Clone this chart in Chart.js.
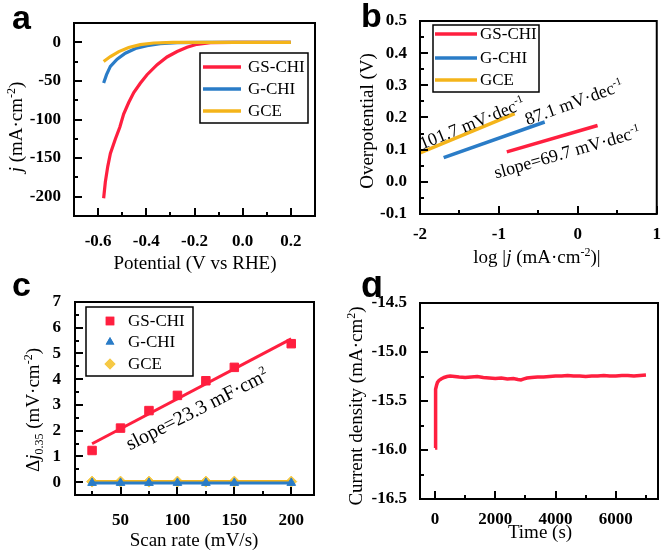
<!DOCTYPE html>
<html><head><meta charset="utf-8">
<script src="https://cdn.jsdelivr.net/npm/chart.js@4.4.0/dist/chart.umd.min.js"></script>
<style>
html,body{margin:0;padding:0;background:#fff;}
body{width:663px;height:552px;position:relative;overflow:hidden;}
canvas{position:absolute;}
</style></head><body>
<canvas id="ca" width="331" height="276" style="left:0;top:0"></canvas>
<canvas id="cb" width="332" height="276" style="left:331px;top:0"></canvas>
<canvas id="cc" width="331" height="276" style="left:0;top:276px"></canvas>
<canvas id="cd" width="332" height="276" style="left:331px;top:276px"></canvas>
<script>
// ---------- DATA ----------
const seriesNames = ['GS-CHI', 'G-CHI', 'GCE'];

// (a) polarization curves
const aGSpot = [-0.577,-0.570,-0.560,-0.549,-0.528,-0.510,-0.494,-0.473,-0.452,-0.425,-0.397,-0.355,-0.314,-0.272,-0.231,-0.190,-0.134,-0.040,0.100,0.200];
const aGScur = [-202,-181,-161,-144,-125,-110,-93,-78,-65,-53,-42,-29,-19,-12,-6.4,-2.6,-0.4,0,0,0];
const aGpot  = [-0.577,-0.565,-0.549,-0.521,-0.487,-0.445,-0.397,-0.342,-0.272,-0.150,0.000,0.200];
const aGcur  = [-52.6,-41.9,-31.2,-21.8,-14.1,-8.1,-4.3,-1.7,-0.4,0,0,0];
const aCEpot = [-0.577,-0.549,-0.514,-0.473,-0.425,-0.369,-0.290,-0.100,0.200];
const aCEcur = [-24.8,-18.4,-12.0,-6.8,-3.0,-0.9,0,0,0];
const aXTicks = [-0.6,-0.4,-0.2,0.0,0.2];
const aYTicks = [0,-50,-100,-150,-200];

// (b) Tafel lines
const bGSlog = [-0.90, 0.25];
const bGSeta = [0.093, 0.175];
const bGlog  = [-1.70, -0.42];
const bGeta  = [0.075, 0.186];
const bCElog = [-2.00, -0.80];
const bCEeta = [0.090, 0.212];
const bXTicks = [-2,-1,0,1];
const bYTicks = [0.5,0.4,0.3,0.2,0.1,0.0,-0.1];

// (c) double-layer capacitance
const cRate   = [25,50,75,100,125,150,200];
const cGS     = [1.23,2.10,2.78,3.37,3.94,4.46,5.38];
const cG      = [-0.03,-0.03,-0.03,-0.03,-0.03,-0.03,-0.03];
const cCE     = [0.02,0.02,0.02,0.02,0.02,0.02,0.02];
const cFitX   = [25,200];
const cFitGS  = [1.49,5.57];
const cFitG   = [-0.03,-0.03];
const cFitCE  = [0.02,0.02];
const cXTicks = [50,100,150,200];
const cYTicks = [0,1,2,3,4,5,6,7];

// (d) chronoamperometry
const dTime = [0,8,15,30,50,80,130,200,300,400,500,650,800,1000,1200,1400,1600,1800,2000,2200,2400,2600,2750,2850,2950,3050,3200,3400,3600,3800,4000,4200,4400,4600,4800,5000,5200,5400,5600,5800,6000,6200,6400,6600,6800,7000];
const dCur  = [-15.98,-15.70,-15.50,-15.38,-15.34,-15.31,-15.29,-15.275,-15.26,-15.25,-15.245,-15.25,-15.255,-15.26,-15.255,-15.25,-15.26,-15.265,-15.27,-15.265,-15.275,-15.27,-15.28,-15.285,-15.275,-15.265,-15.26,-15.255,-15.255,-15.25,-15.245,-15.245,-15.24,-15.245,-15.245,-15.25,-15.245,-15.245,-15.24,-15.245,-15.245,-15.24,-15.24,-15.245,-15.24,-15.235];
const dXTicks = [0,2000,4000,6000];
const dYTicks = [-14.5,-15.0,-15.5,-16.0,-16.5];

// ---------- STYLE ----------
const RED = '#ff1f3f', BLUE = '#2a7cc7', GOLD = '#f4b41a', GOLDPT = '#f6c945';
const SERIF = '"Liberation Serif", "Times New Roman", serif';
Chart.defaults.color = '#000';

const pts = (xs, ys) => xs.map((x, i) => ({x, y: ys[i]}));

function rich(ctx, parts, x, y, ang, size) {
  ctx.save(); ctx.translate(x, y); ctx.rotate(ang * Math.PI / 180);
  const fontOf = p => `${p.i ? 'italic ' : ''}${p.b ? 'bold ' : ''}${(p.sup || p.sub) ? Math.round(size * 0.62) : size}px ${SERIF}`;
  let w = 0;
  parts.forEach(p => { ctx.font = fontOf(p); p._w = ctx.measureText(p.t).width; w += p._w; });
  let cx = -w / 2;
  ctx.textBaseline = 'alphabetic'; ctx.textAlign = 'left'; ctx.fillStyle = '#000';
  const base = size * 0.33;
  parts.forEach(p => {
    ctx.font = fontOf(p);
    const dy = p.sup ? -size * 0.38 : (p.sub ? size * 0.22 : 0);
    ctx.fillText(p.t, cx, base + dy); cx += p._w;
  });
  ctx.restore();
}

function drawDeco(chart, cfg) {
  const ctx = chart.ctx, A = chart.chartArea, xs = chart.scales.x, ys = chart.scales.y;
  ctx.save();
  ctx.strokeStyle = '#000'; ctx.lineWidth = 2;
  const tk = (vals, len, axis) => vals.forEach(v => {
    ctx.beginPath();
    if (axis === 'x') { const px = Math.round(xs.getPixelForValue(v)); ctx.moveTo(px, A.bottom); ctx.lineTo(px, A.bottom - len); }
    else { const py = Math.round(ys.getPixelForValue(v)); ctx.moveTo(A.left, py); ctx.lineTo(A.left + len, py); }
    ctx.stroke();
  });
  tk(cfg.x.ticks, 8, 'x'); tk(cfg.x.minor, 4, 'x');
  tk(cfg.y.ticks, 8, 'y'); tk(cfg.y.minor, 4, 'y');
  ctx.strokeRect(A.left, A.top, A.right - A.left, A.bottom - A.top);
  if (cfg.legend) {
    const L = cfg.legend;
    ctx.lineWidth = 1.5;
    ctx.strokeRect(L.x0, L.y0, L.x1 - L.x0, L.y1 - L.y0);
    L.items.forEach((it, i) => {
      const y = L.rows[i];
      if (it.line) {
        ctx.strokeStyle = it.color; ctx.lineWidth = 3.5; ctx.lineCap = 'butt';
        ctx.beginPath(); ctx.moveTo(L.lx0, y); ctx.lineTo(L.lx1, y); ctx.stroke();
      } else {
        ctx.fillStyle = it.color; ctx.strokeStyle = it.color; ctx.lineWidth = 1;
        Chart.helpers.drawPoint(ctx, {pointStyle: it.style, radius: it.r, rotation: 0}, L.mx, y);
        ctx.fill();
      }
      ctx.fillStyle = '#000'; ctx.font = `17px ${SERIF}`; ctx.textBaseline = 'middle'; ctx.textAlign = 'left';
      ctx.fillText(it.text, L.tx, y + 1);
    });
  }
  cfg.texts.forEach(t => rich(ctx, t.parts, t.x, t.y, t.a || 0, t.s));
  ctx.fillStyle = '#000'; ctx.font = `bold ${cfg.letter.s}px "Liberation Sans", Arial, sans-serif`;
  ctx.textBaseline = 'alphabetic'; ctx.textAlign = 'left';
  ctx.fillText(cfg.letter.t, cfg.letter.x, cfg.letter.y);
  ctx.restore();
}

function panel(id, cfg) {
  const el = document.getElementById(id);
  const W = el.width, H = el.height, A = cfg.area;
  const tickFont = {family: SERIF, size: 17, weight: 'bold'};
  return new Chart(el, {
    type: 'scatter',
    data: {datasets: cfg.datasets},
    options: {
      responsive: false, animation: false, events: [],
      layout: {padding: {left: 0, right: W - A.r, top: A.t, bottom: 0}},
      plugins: {legend: {display: false}, tooltip: {enabled: false}},
      elements: {line: {tension: 0}},
      scales: {
        x: {type: 'linear', min: cfg.x.min, max: cfg.x.max,
            grid: {display: false}, border: {display: false},
            afterFit: s => { s.height = H - A.b; },
            afterBuildTicks: s => { s.ticks = cfg.x.ticks.map(v => ({value: v})); },
            ticks: {padding: cfg.x.pad, font: tickFont, color: '#000', callback: cfg.x.fmt, maxRotation: 0, autoSkip: false}},
        y: {type: 'linear', min: cfg.y.min, max: cfg.y.max,
            grid: {display: false}, border: {display: false},
            afterFit: s => { s.width = A.l; },
            afterBuildTicks: s => { s.ticks = cfg.y.ticks.map(v => ({value: v})); },
            ticks: {padding: cfg.y.pad, font: tickFont, color: '#000', callback: cfg.y.fmt, autoSkip: false}}
      }
    },
    plugins: [{id: 'deco', afterDraw: ch => drawDeco(ch, cfg)}]
  });
}

const lineDS = (label, xs, ys, color, w) => ({label, data: pts(xs, ys), showLine: true, borderColor: color, borderWidth: w, pointRadius: 0, fill: false});
const markDS = (label, xs, ys, color, style, r) => ({label, data: pts(xs, ys), showLine: false, pointStyle: style, pointRadius: r, backgroundColor: color, borderColor: color, borderWidth: 1});

// ---------- (a) ----------
panel('ca', {
  area: {l: 74, r: 315, t: 23, b: 216},
  x: {min: -0.7, max: 0.3, ticks: aXTicks, minor: [-0.5,-0.3,-0.1,0.1], pad: 7, fmt: v => Number(v).toFixed(1)},
  y: {min: -225, max: 25, ticks: aYTicks, minor: [-25,-75,-125,-175], pad: 5, fmt: v => String(v)},
  datasets: [
    lineDS(seriesNames[2], aCEpot, aCEcur, GOLD, 3.2),
    lineDS(seriesNames[1], aGpot, aGcur, BLUE, 3.2),
    lineDS(seriesNames[0], aGSpot, aGScur, RED, 3.2)
  ],
  legend: {x0: 200, y0: 53, x1: 308, y1: 123, rows: [67, 89, 111], lx0: 203, lx1: 241, tx: 248, mx: 0,
    items: [{text: seriesNames[0], color: RED, line: true}, {text: seriesNames[1], color: BLUE, line: true}, {text: seriesNames[2], color: GOLD, line: true}]},
  texts: [
    {parts: [{t: 'j', i: true}, {t: ' (mA·cm'}, {t: '-2', sup: true}, {t: ')'}], x: 16, y: 127, a: -90, s: 19},
    {parts: [{t: 'Potential (V vs RHE)'}], x: 195, y: 263, s: 19}
  ],
  letter: {t: 'a', x: 12, y: 29, s: 34}
});

// ---------- (b) ----------
panel('cb', {
  area: {l: 89, r: 327, t: 21, b: 214},
  x: {min: -2, max: 1, ticks: bXTicks, minor: [-1.5,-0.5,0.5], pad: 2, fmt: v => String(v)},
  y: {min: -0.1, max: 0.5, ticks: bYTicks, minor: [0.45,0.35,0.25,0.15,0.05,-0.05], pad: 5, fmt: v => Number(v).toFixed(1)},
  datasets: [
    lineDS(seriesNames[2], bCElog, bCEeta, GOLD, 3.5),
    lineDS(seriesNames[1], bGlog, bGeta, BLUE, 3.5),
    lineDS(seriesNames[0], bGSlog, bGSeta, RED, 3.5)
  ],
  legend: {x0: 102, y0: 25, x1: 208, y1: 92, rows: [34, 58, 80], lx0: 104, lx1: 146, tx: 149, mx: 0,
    items: [{text: seriesNames[0], color: RED, line: true}, {text: seriesNames[1], color: BLUE, line: true}, {text: seriesNames[2], color: GOLD, line: true}]},
  texts: [
    {parts: [{t: 'Overpotential (V)'}], x: 36, y: 121, a: -90, s: 19},
    {parts: [{t: 'log |'}, {t: 'j', i: true}, {t: ' (mA·cm'}, {t: '-2', sup: true}, {t: ')|'}], x: 206, y: 257, s: 19},
    {parts: [{t: '101.7 mV·dec'}, {t: '-1', sup: true}], x: 141, y: 123, a: -22, s: 18},
    {parts: [{t: '87.1 mV·dec'}, {t: '-1', sup: true}], x: 243, y: 102, a: -20, s: 18},
    {parts: [{t: 'slope=69.7 mV·dec'}, {t: '-1', sup: true}], x: 236, y: 152, a: -16, s: 18}
  ],
  letter: {t: 'b', x: 30, y: 27, s: 34}
});

// ---------- (c) ----------
panel('cc', {
  area: {l: 75, r: 314, t: 26, b: 219},
  x: {min: 10, max: 220, ticks: cXTicks, minor: [25,75,125,175], pad: 7, fmt: v => String(v)},
  y: {min: -0.5, max: 7, ticks: cYTicks, minor: [0.5,1.5,2.5,3.5,4.5,5.5,6.5], pad: 6, fmt: v => String(v)},
  datasets: [
    lineDS(seriesNames[0] + ' fit', cFitX, cFitGS, RED, 3),
    markDS(seriesNames[0], cRate, cGS, RED, 'rect', 6),
    lineDS(seriesNames[1] + ' fit', cFitX, cFitG, BLUE, 3),
    markDS(seriesNames[1], cRate, cG, BLUE, 'triangle', 5),
    lineDS(seriesNames[2] + ' fit', cFitX, cFitCE, GOLD, 3),
    markDS(seriesNames[2], cRate, cCE, GOLDPT, 'rectRot', 5.5)
  ],
  legend: {x0: 86, y0: 31, x1: 193, y1: 100, rows: [45, 66, 88], lx0: 0, lx1: 0, tx: 128, mx: 110,
    items: [{text: seriesNames[0], color: RED, style: 'rect', r: 6}, {text: seriesNames[1], color: BLUE, style: 'triangle', r: 5}, {text: seriesNames[2], color: GOLDPT, style: 'rectRot', r: 5.5}]},
  texts: [
    {parts: [{t: 'Δ'}, {t: 'j', i: true}, {t: '0.35', sub: true}, {t: ' (mV·cm'}, {t: '-2', sup: true}, {t: ')'}], x: 33, y: 134, a: -90, s: 19},
    {parts: [{t: 'Scan rate (mV/s)'}], x: 194, y: 264, s: 19},
    {parts: [{t: 'slope=23.3 mF·cm'}, {t: '2', sup: true}], x: 197, y: 133, a: -27, s: 20}
  ],
  letter: {t: 'c', x: 12, y: 20, s: 34}
});

// ---------- (d) ----------
panel('cd', {
  area: {l: 89, r: 327, t: 27, b: 223},
  x: {min: -500, max: 7400, ticks: dXTicks, minor: [1000,3000,5000,7000], pad: 2, fmt: v => String(v)},
  y: {min: -16.5, max: -14.5, ticks: dYTicks, minor: [-14.75,-15.25,-15.75,-16.25], pad: 5, fmt: v => Number(v).toFixed(1)},
  datasets: [
    lineDS('GS-CHI', dTime, dCur, RED, 3.5)
  ],
  legend: null,
  texts: [
    {parts: [{t: 'Current density (mA·cm'}, {t: '2', sup: true}, {t: ')'}], x: 25, y: 130, a: -90, s: 19},
    {parts: [{t: 'Time (s)'}], x: 209, y: 256, s: 19}
  ],
  letter: {t: 'd', x: 30, y: 21, s: 36}
});
</script>
</body></html>
